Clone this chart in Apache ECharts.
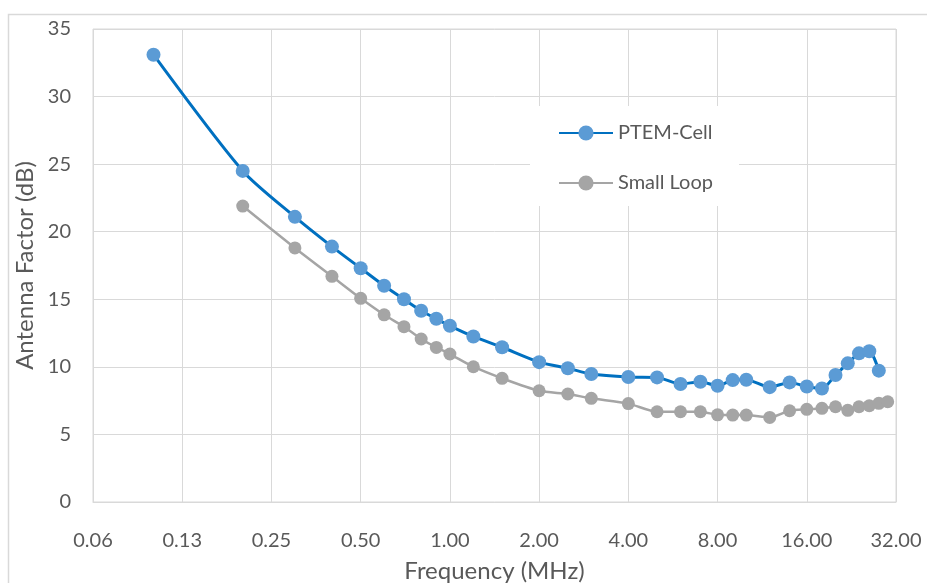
<!DOCTYPE html>
<html>
<head>
<meta charset="utf-8">
<script src="https://cdn.jsdelivr.net/npm/echarts@6/dist/echarts.min.js"></script>
<style>
html,body{margin:0;padding:0;background:#fff;}
#chart{width:927px;height:583px;}
</style>
</head>
<body>
<div id="chart"></div>
<script>
var seriesNames = ["PTEM-Cell", "Small Loop"];
var freqPTEM = [0.1,0.2,0.3,0.4,0.5,0.6,0.7,0.8,0.9,1.0,1.2,1.5,2.0,2.5,3.0,4.0,5,6,7,8,9,10,12,14,16,18,20,22,24,26,28];
var afPTEM   = [33.1,24.5,21.1,18.9,17.3,16.0,15.0,14.15,13.56,13.04,12.25,11.45,10.35,9.9,9.47,9.25,9.22,8.73,8.9,8.6,9.02,9.05,8.5,8.85,8.55,8.4,9.4,10.26,11.0,11.15,9.72];
var freqLoop = [0.2,0.3,0.4,0.5,0.6,0.7,0.8,0.9,1.0,1.2,1.5,2.0,2.5,3.0,4.0,5,6,7,8,9,10,12,14,16,18,20,22,24,26,28,30];
var afLoop   = [21.9,18.8,16.7,15.07,13.85,12.97,12.06,11.44,10.95,10.01,9.15,8.23,7.99,7.67,7.28,6.68,6.68,6.68,6.45,6.43,6.43,6.26,6.75,6.86,6.93,7.05,6.78,7.05,7.12,7.3,7.42];
var xTickLabels = ["0.06","0.13","0.25","0.50","1.00","2.00","4.00","8.00","16.00","32.00"];
var xMin = 0.0625, xMax = 32;
var yTickMin = 0, yTickMax = 35, yTickStep = 5;

function pairs(xs, ys){ return xs.map(function(x,i){ return [x, ys[i]]; }); }

var FONT = 'Lato';
var TXT = '#595959';
var GRIDC = '#d9d9d9';

var chart = echarts.init(document.getElementById('chart'), null, {renderer:'canvas'});
chart.setOption({
  animation:false,
  backgroundColor:'#fff',
  textStyle:{fontFamily:FONT},
  graphic:[{
    type:'rect', z:-1, silent:true,
    shape:{x:8.5, y:14.5, width:1000, height:1000},
    style:{fill:'none', stroke:GRIDC, lineWidth:1.5}
  }],
  grid:{left:93, right:31, top:29, bottom:81, show:true, borderColor:GRIDC, borderWidth:1,
        backgroundColor:'transparent', containLabel:false, outerBoundsMode:'none'},
  legend:{
    orient:'vertical', left:530, top:106,
    padding:[17,26,13,28], itemGap:30,
    backgroundColor:'#fff',
    itemWidth:54, itemHeight:19,
    textStyle:{fontFamily:FONT, fontSize:20, color:TXT},
    data:seriesNames
  },
  xAxis:{
    type:'log', logBase:2, min:xMin, max:xMax, splitNumber:9,
    name:'Frequency (MHz)', nameLocation:'middle', nameGap:57,
    nameTextStyle:{fontFamily:FONT, fontSize:24, color:TXT},
    axisLine:{show:true, lineStyle:{color:GRIDC, width:1}},
    axisTick:{show:false},
    axisLabel:{fontFamily:FONT, fontSize:20, color:TXT, margin:29,
      formatter:function(v){ var i=Math.round(Math.log(v/xMin)/Math.LN2); return xTickLabels[i]!==undefined?xTickLabels[i]:''; }},
    splitLine:{show:true, lineStyle:{color:GRIDC, width:1}},
    minorTick:{show:false}, minorSplitLine:{show:false}
  },
  yAxis:{
    type:'value', min:yTickMin, max:yTickMax, interval:yTickStep,
    name:'Antenna Factor (dB)', nameLocation:'middle', nameGap:52,
    nameTextStyle:{fontFamily:FONT, fontSize:24, color:TXT},
    axisLine:{show:false}, axisTick:{show:false},
    axisLabel:{fontFamily:FONT, fontSize:20, color:TXT, margin:22},
    splitLine:{show:true, lineStyle:{color:GRIDC, width:1}}
  },
  series:[{
    name:seriesNames[0], type:'line', smooth:0.25, data:pairs(freqPTEM, afPTEM),
    symbol:'circle', symbolSize:14, z:3,
    lineStyle:{color:'#0070C0', width:3},
    itemStyle:{color:'#5B9BD5', borderWidth:0}
  },{
    name:seriesNames[1], type:'line', smooth:0.25, data:pairs(freqLoop, afLoop),
    symbol:'circle', symbolSize:13, z:2,
    lineStyle:{color:'#A5A5A5', width:2.5},
    itemStyle:{color:'#A5A5A5', borderWidth:0}
  }]
});
</script>
</body>
</html>
